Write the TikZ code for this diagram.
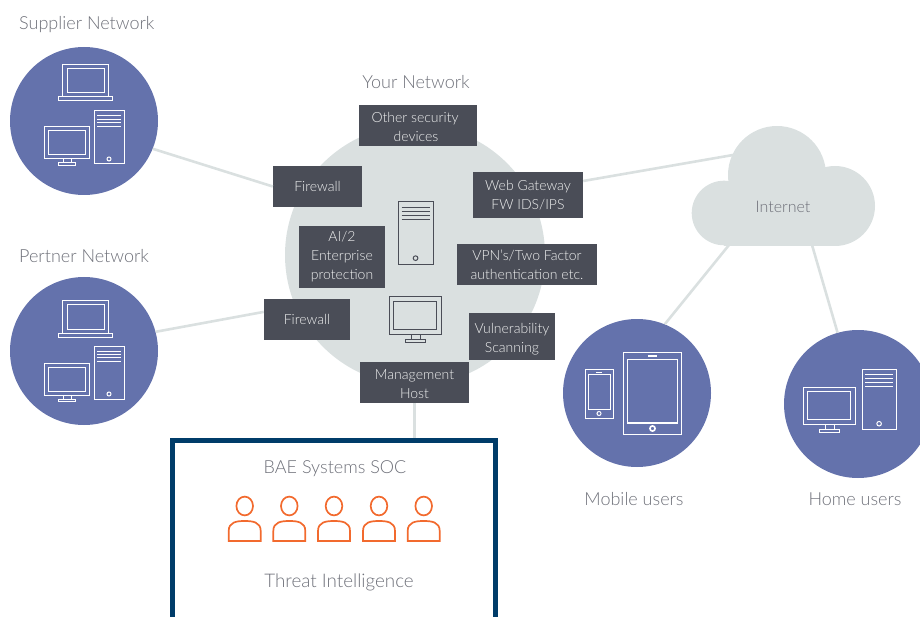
\documentclass[tikz,border=0pt]{standalone}
\usepackage{fontspec}
\setmainfont{Lato Light}
\usepackage{xcolor}
\usetikzlibrary{positioning}
\definecolor{circleblue}{HTML}{6472AC}
\definecolor{networkgrey}{HTML}{DAE0E0}
\definecolor{boxdark}{HTML}{4A4D57}
\definecolor{socnavy}{HTML}{003C69}
\definecolor{staffred}{HTML}{F26A2E}
\definecolor{labelgrey}{HTML}{6E7079}
\newcommand{\dropline}[1]{\rule{0pt}{#1}}
\tikzset{
  netcircle/.style={circle, fill=circleblue, minimum size=148pt, inner sep=0pt},
  darkbox/.style={fill=boxdark, text=white!92!boxdark, font=\fontsize{14}{19}\selectfont,
    align=center, inner sep=0pt},
  netlabel/.style={text=labelgrey, font=\fontsize{18}{22}\selectfont, inner sep=0pt},
  link/.style={networkgrey, line width=2.6pt},
  iconline/.style={line width=1pt},
  laptopicon/.pic={
    \draw[iconline] (4,0) rectangle (50,32);
    \draw[iconline] (9,4) rectangle (46,28);
    \draw[iconline] (0,32) rectangle (54,36);
  },
  monitoricon/.pic={
    \draw[iconline] (0,0) rectangle (45,32);
    \draw[iconline] (4,4) rectangle (41,28);
    \draw[iconline] (19,32) rectangle (27,36);
    \draw[iconline] (14,36) rectangle (31,38.5);
  },
  towericon/.pic={
    \draw[iconline] (0,0) rectangle (30,53);
    \foreach \ly in {5,8.4,11.8,15.2}
      \draw[iconline] (3,\ly) -- (27,\ly);
    \draw[iconline] (15,48) circle (2);
  },
  personicon/.pic={
    \draw[staffred, line width=1.7pt] (0,0) ellipse (8.3 and 9.4);
    \draw[staffred, line width=1.7pt] (-16,35) -- (-16,25)
      .. controls (-16,16) and (-8,15) .. (0,15)
      .. controls (8,15) and (16,16) .. (16,25) -- (16,35) -- cycle;
  },
}
\begin{document}
\begin{tikzpicture}[x=1pt, y=-1pt]
  \useasboundingbox (0,0) rectangle (920,617);

  % Big grey circle and the cloud
  \node[circle, fill=networkgrey, minimum size=260pt, inner sep=0pt] (yournet) at (415,255) {};
  \fill[networkgrey] (724,213) circle (32.3);
  \fill[networkgrey] (777,175) circle (49);
  \fill[networkgrey] (835,206) circle (40);
  \fill[networkgrey] (724,200) rectangle (835,245.7);
  \node[text=labelgrey, font=\fontsize{16}{18}\selectfont, inner sep=0pt] (internet) at (783,207) {Internet};
  \coordinate (cloudtop) at (733,155);
  \coordinate (cloudleft) at (729,245);
  \coordinate (cloudright) at (812,245);

  % Outer circles
  \node[netcircle] (supplier) at (84,121) {};
  \node[netcircle] (partner) at (84,351) {};
  \node[netcircle] (mobile) at (637,393) {};
  \node[netcircle] (home) at (858,404) {};

  % Boxes on the grey circle
  \node[darkbox, minimum width=118pt, minimum height=41pt] (other) at (418,125.5) {\dropline{14pt}Other security\hspace*{6pt}\\devices\hspace*{4pt}};
  \node[darkbox, minimum width=89pt, minimum height=41pt] (firewalla) at (317.5,186.5) {Firewall};
  \node[darkbox, minimum width=110pt, minimum height=46pt] (gateway) at (528,195) {Web Gateway\\FW IDS/IPS};
  \node[darkbox, minimum width=86pt, minimum height=62pt] (enterprise) at (342,257) {AI/2\\Enterprise\\protection};
  \node[darkbox, minimum width=140pt, minimum height=41pt] (vpn) at (527,264.5) {\dropline{12pt}VPN's/Two Factor\\authentication etc.};
  \node[darkbox, minimum width=86pt, minimum height=41pt] (firewallb) at (307,319.5) {Firewall};
  \node[darkbox, minimum width=86pt, minimum height=47pt] (vuln) at (512,336.5) {\dropline{16pt}Vulnerability\\Scanning};
  \node[darkbox, minimum width=109pt, minimum height=41pt] (mgmt) at (414.5,382.5) {\dropline{14pt}Management\\Host};

  % SOC box
  \node[draw=socnavy, line width=5pt, minimum width=323.5pt, minimum height=200pt, inner sep=0pt] (soc) at (333.75,540.5) {};
  \node[netlabel] (bae) at (335,469) {BAE Systems SOC};
  \node[netlabel, font=\fontsize{18.8}{22}\selectfont] (threat) at (339,582) {Threat Intelligence};
  \foreach \px in {244.7,289.3,334,379,423.7}
    \pic at (\px,506) {personicon};

  % Links
  \draw[link] (supplier.-22) -- (firewalla.west);
  \draw[link] (partner.15) -- (firewallb.170);
  \draw[link] (gateway.east |- 0,181) -- (cloudtop);
  \draw[link] (cloudleft) -- (mobile.68);
  \draw[link] (cloudright) -- (home.106);
  \draw[link] (mgmt.south) -- (mgmt.south |- soc.north);

  % Labels
  \node[netlabel, anchor=west] (supplierlabel) at (19,25) {Supplier Network};
  \node[netlabel, anchor=west] (partnerlabel) at (19,256.5) {Pertner Network};
  \node[netlabel] (yourlabel) at (416,82) {Your Network};
  \node[netlabel] (mobilelabel) at (634,499) {Mobile users};
  \node[netlabel] (homelabel) at (855,499) {Home users};

  % Icons
  \begin{scope}[draw=white]
    \pic at (58,65) {laptopicon};
    \pic at (44,127) {monitoricon};
    \pic at (94,111) {towericon};
    \pic at (58,301) {laptopicon};
    \pic at (44,363) {monitoricon};
    \pic at (94,346) {towericon};
    \pic[scale=1.17] at (803,387) {monitoricon};
    \pic[scale=1.14] at (862,369) {towericon};
    % phone
    \draw[iconline] (585,369) rectangle (613,418);
    \draw[iconline] (588,374) rectangle (610,409);
    \draw[iconline] (596,372) -- (602,372);
    \draw[iconline] (599,413.5) circle (2);
    % tablet
    \draw[line width=1.6pt] (623.5,352.5) rectangle (681.5,434.5);
    \draw[line width=1.6pt] (627.5,359.5) rectangle (677.5,423);
    \draw[line width=1.6pt] (648,356) -- (657,356);
    \draw[line width=1.6pt] (652.5,428.5) circle (2.6);
  \end{scope}
  \begin{scope}[draw=boxdark]
    \pic[scale=1.17] at (398,202) {towericon};
    \pic[scale=1.17] at (389,297) {monitoricon};
  \end{scope}
\end{tikzpicture}
\end{document}
